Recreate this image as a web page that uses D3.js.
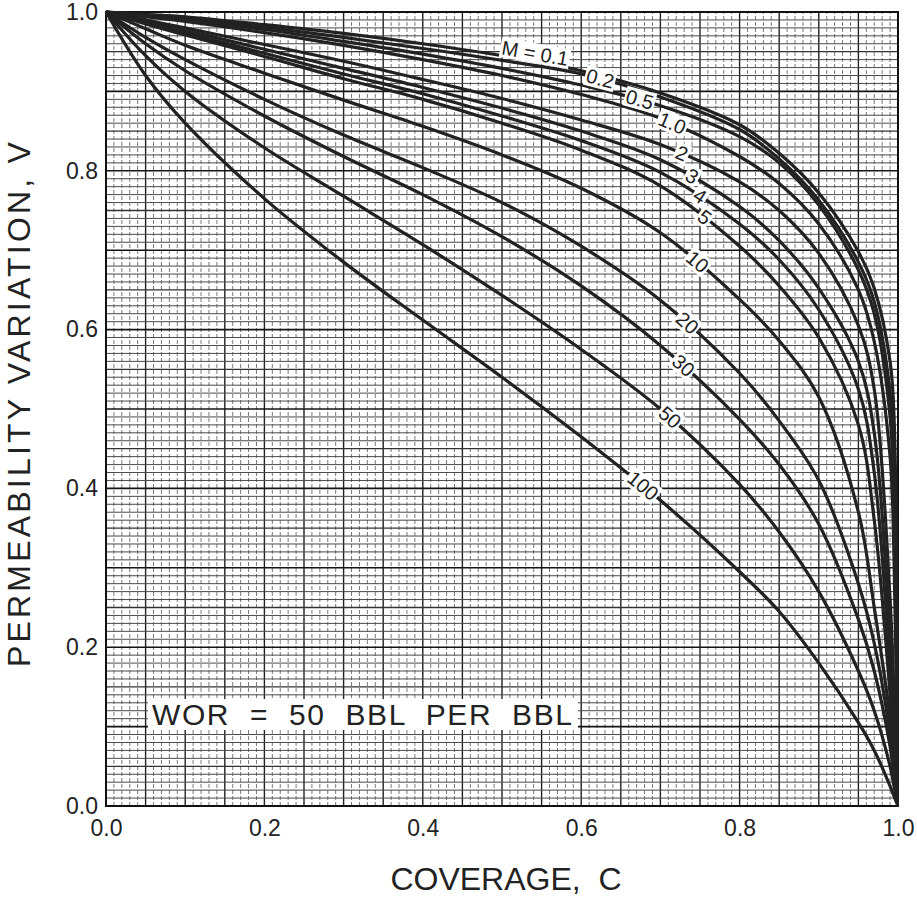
<!DOCTYPE html>
<html>
<head>
<meta charset="utf-8">
<script src="https://cdn.jsdelivr.net/npm/d3@7"></script>
<style>
  body { margin: 0; background: #fff; }
  text { font-family: "Liberation Sans", Arial, Helvetica, sans-serif; fill: #222; }
</style>
</head>
<body>
<svg id="chart" width="917" height="898"></svg>
<script>
// coverage values shared by every curve
var coverage = [0, 0.05, 0.1, 0.2, 0.3, 0.4, 0.5, 0.6, 0.7, 0.8, 0.85, 0.9, 0.95, 0.97, 0.99, 0.995, 1];

// permeability variation V
var v_m0_1 = [1, 0.997, 0.994, 0.984, 0.973, 0.960, 0.945, 0.926, 0.898, 0.858, 0.822, 0.772, 0.698, 0.652, 0.560, 0.490, 0];
var v_m0_2 = [1, 0.996, 0.992, 0.981, 0.968, 0.954, 0.939, 0.922, 0.893, 0.852, 0.815, 0.763, 0.685, 0.635, 0.520, 0.400, 0];
var v_m0_5 = [1, 0.995, 0.990, 0.978, 0.963, 0.947, 0.929, 0.908, 0.882, 0.843, 0.810, 0.757, 0.675, 0.620, 0.490, 0.370, 0];
var v_m1 = [1, 0.994, 0.988, 0.974, 0.958, 0.940, 0.920, 0.896, 0.866, 0.818, 0.784, 0.733, 0.650, 0.585, 0.440, 0.310, 0];
var v_m2 = [1, 0.990, 0.980, 0.959, 0.938, 0.915, 0.891, 0.864, 0.833, 0.786, 0.750, 0.696, 0.605, 0.525, 0.260, 0.140, 0];
var v_m3 = [1, 0.988, 0.977, 0.953, 0.929, 0.905, 0.879, 0.850, 0.814, 0.755, 0.712, 0.652, 0.560, 0.470, 0.210, 0.110, 0];
var v_m4 = [1, 0.987, 0.974, 0.948, 0.922, 0.897, 0.869, 0.838, 0.798, 0.733, 0.688, 0.625, 0.525, 0.420, 0.170, 0.085, 0];
var v_m5 = [1, 0.985, 0.971, 0.944, 0.916, 0.890, 0.860, 0.826, 0.781, 0.705, 0.655, 0.590, 0.480, 0.360, 0.140, 0.070, 0];
var v_m10 = [1, 0.979, 0.958, 0.923, 0.889, 0.856, 0.820, 0.778, 0.722, 0.638, 0.586, 0.515, 0.370, 0.250, 0.110, 0.055, 0];
var v_m20 = [1, 0.968, 0.940, 0.890, 0.845, 0.804, 0.760, 0.705, 0.637, 0.545, 0.485, 0.410, 0.280, 0.205, 0.090, 0.045, 0];
var v_m30 = [1, 0.960, 0.926, 0.869, 0.818, 0.770, 0.717, 0.655, 0.580, 0.487, 0.430, 0.355, 0.235, 0.170, 0.075, 0.038, 0];
var v_m50 = [1, 0.945, 0.900, 0.829, 0.768, 0.707, 0.643, 0.575, 0.500, 0.405, 0.345, 0.270, 0.170, 0.120, 0.050, 0.025, 0];
var v_m100 = [1, 0.920, 0.860, 0.765, 0.685, 0.612, 0.540, 0.465, 0.385, 0.295, 0.245, 0.180, 0.105, 0.070, 0.025, 0.012, 0];

// curve labels and the coverage where each label sits
var curveLabels = ["M = 0.1", "0.2", "0.5", "1.0", "2", "3", "4", "5", "10", "20", "30", "50", "100"];
var labelAt = [0.54, 0.624, 0.674, 0.715, 0.727, 0.74, 0.75, 0.756, 0.747, 0.734, 0.729, 0.712, 0.678];

var tickValues = [0, 0.2, 0.4, 0.6, 0.8, 1.0];
var xTitle = "COVERAGE,  C";
var yTitle = "PERMEABILITY VARIATION, V";
var note = "WOR  =  50  BBL  PER  BBL";

var series = [v_m0_1, v_m0_2, v_m0_5, v_m1, v_m2, v_m3, v_m4, v_m5, v_m10, v_m20, v_m30, v_m50, v_m100]
  .map(function(v, i) {
    return { label: curveLabels[i], at: labelAt[i], points: coverage.map(function(c, j) { return [c, v[j]]; }) };
  });

var svg = d3.select("#chart");
var x = d3.scaleLinear().domain([0, 1]).range([106, 898]);
var y = d3.scaleLinear().domain([0, 1]).range([806, 12]);

svg.append("clipPath").attr("id", "plotclip").append("rect")
  .attr("x", x(0) - 2).attr("y", y(1) - 2)
  .attr("width", x(1) - x(0) + 3).attr("height", y(0) - y(1) + 4);

// graph paper grid
var fine = d3.range(0, 101).map(function(i) { return i / 100; });
var grid = svg.append("g");
grid.selectAll(".vx").data(fine).enter().append("line")
  .attr("x1", function(d) { return x(d); }).attr("x2", function(d) { return x(d); })
  .attr("y1", y(0)).attr("y2", y(1))
  .attr("stroke", function(d, i) { return i % 5 == 0 ? "#222" : "#7a7a7a"; })
  .attr("stroke-width", function(d, i) { return i % 5 == 0 ? 1.4 : 1; })
  .attr("stroke-dasharray", function(d, i) { return i % 5 == 0 ? null : "4,2"; });
grid.selectAll(".hy").data(fine).enter().append("line")
  .attr("y1", function(d) { return y(d); }).attr("y2", function(d) { return y(d); })
  .attr("x1", x(0)).attr("x2", x(1))
  .attr("stroke", function(d, i) { return i % 10 == 0 ? "#151515" : (i % 5 == 0 ? "#333" : "#4a4a4a"); })
  .attr("stroke-width", function(d, i) { return i % 10 == 0 ? 1.6 : (i % 5 == 0 ? 1.3 : 1); });

// frame
svg.append("rect")
  .attr("x", x(0)).attr("y", y(1))
  .attr("width", x(1) - x(0)).attr("height", y(0) - y(1))
  .attr("fill", "none").attr("stroke", "#111").attr("stroke-width", 2);

// curves
var line = d3.line()
  .x(function(d) { return x(d[0]); })
  .y(function(d) { return y(d[1]); })
  .curve(d3.curveCatmullRom.alpha(0.5));

var paths = svg.append("g").attr("clip-path", "url(#plotclip)")
  .selectAll("path").data(series).enter().append("path")
  .attr("d", function(d) { return line(d.points); })
  .attr("fill", "none")
  .attr("stroke", "#222")
  .attr("stroke-width", 3.2)
  .attr("stroke-linejoin", "round");

// labels on the curves, white boxes behind
var labelG = svg.append("g");
paths.each(function(d, i) {
  var node = this, total = node.getTotalLength(), target = x(d.at);
  var lo = 0, hi = total;
  for (var k = 0; k < 40; k++) {
    var mid = (lo + hi) / 2;
    if (node.getPointAtLength(mid).x < target) lo = mid; else hi = mid;
  }
  var p = node.getPointAtLength(lo);
  var p1 = node.getPointAtLength(Math.max(0, lo - 8)), p2 = node.getPointAtLength(Math.min(total, lo + 8));
  var angle = Math.atan2(p2.y - p1.y, p2.x - p1.x) * 180 / Math.PI;
  var shift = i == 0 ? -8 : 0; // the M = 0.1 label rides above its curve
  var g = labelG.append("g").attr("transform", "translate(" + p.x + "," + p.y + ") rotate(" + angle + ") translate(0," + shift + ")");
  var t = g.append("text")
    .attr("text-anchor", "middle")
    .attr("dy", "0.35em")
    .style("font-size", "20px")
    .text(d.label);
  var bb = t.node().getBBox();
  g.insert("rect", "text")
    .attr("x", bb.x - 1.5).attr("y", bb.y + 1)
    .attr("width", bb.width + 3).attr("height", bb.height - 2)
    .attr("fill", "#fff");
});

// axes
var xAxis = svg.append("g").attr("transform", "translate(0," + y(0) + ")")
  .call(d3.axisBottom(x).tickValues(tickValues).tickFormat(d3.format(".1f")).tickSize(0).tickPadding(14));
var yAxis = svg.append("g").attr("transform", "translate(" + x(0) + ",0)")
  .call(d3.axisLeft(y).tickValues(tickValues).tickFormat(d3.format(".1f")).tickSize(0).tickPadding(8));
[xAxis, yAxis].forEach(function(a) {
  a.select(".domain").remove();
  a.selectAll("text").style("font-size", "23px").style("font-family", "\"Liberation Sans\", Arial, sans-serif").attr("fill", "#222");
});

// axis titles
svg.append("text")
  .attr("x", 506).attr("y", 890)
  .attr("text-anchor", "middle")
  .style("font-size", "32px").style("white-space", "pre")
  .text(xTitle);
svg.append("text")
  .attr("transform", "translate(30,403) rotate(-90)")
  .attr("text-anchor", "middle")
  .style("font-size", "32px").style("letter-spacing", "3.2px")
  .text(yTitle);

// note box
var noteG = svg.append("g");
noteG.append("text")
  .attr("x", 152).attr("y", 725)
  .style("font-size", "30px").style("white-space", "pre")
  .attr("textLength", 420).attr("lengthAdjust", "spacing")
  .text(note);
noteG.insert("rect", "text")
  .attr("x", 148).attr("y", 699).attr("width", 430).attr("height", 31)
  .attr("fill", "#fff");
</script>
</body>
</html>
